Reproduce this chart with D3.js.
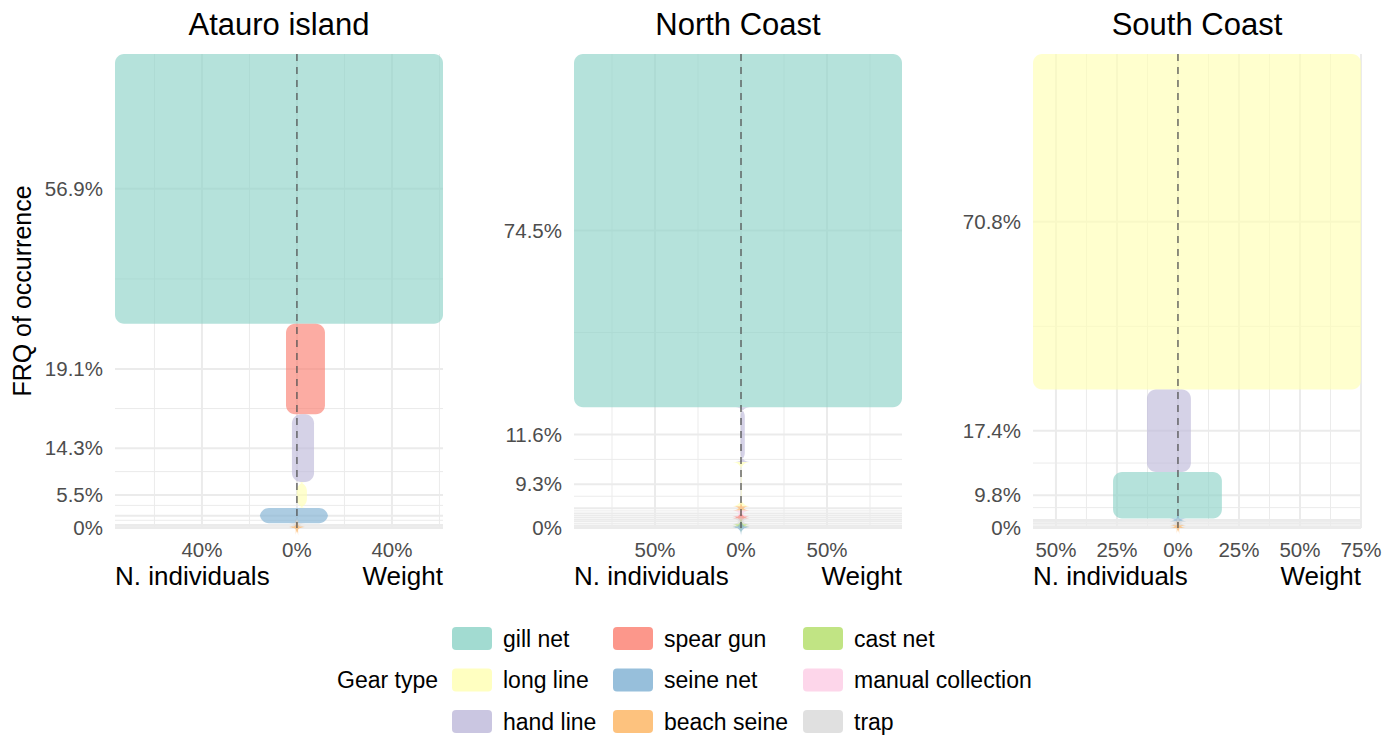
<!DOCTYPE html>
<html>
<head>
<meta charset="utf-8">
<script src="https://cdn.jsdelivr.net/npm/d3@7"></script>
<style>
  body { margin: 0; background: #fff; }
  text { font-family: "Liberation Sans", Arial, sans-serif; }
</style>
</head>
<body>
<svg id="chart" width="1397" height="740"></svg>
<script>
// gear types (legend order) and Set3 palette
const gearTypes = ["gill net", "long line", "hand line", "spear gun", "seine net",
  "beach seine", "cast net", "manual collection", "trap"];
const gearColors = ["#8DD3C7", "#FFFFB3", "#BEBADA", "#FB8072", "#80B1D3",
  "#FDB462", "#B3DE69", "#FCCDE5", "#D9D9D9"];

// Atauro island (top to bottom)
const atauroGear = ["gill net", "spear gun", "hand line", "long line", "seine net", "trap", "beach seine"];
const atauroFreq = [56.9, 19.1, 14.3, 5.5, 3.2, 0.7, 0.3];
const atauroIndiv = [76.6, 4.6, 2.1, 0.1, 15.6, 0.4, 0.5];
const atauroWeight = [61.5, 11.8, 7.2, 4.2, 13.1, 0.4, 0.5];
const atauroTicks = [-40, 0, 40];

// North Coast
const northGear = ["gill net", "hand line", "long line", "beach seine", "manual collection",
  "spear gun", "trap", "cast net", "seine net"];
const northFreq = [74.5, 11.6, 9.3, 0.9, 1.3, 0.4, 1.2, 0.5, 0.3];
const northIndiv = [97.1, 0.2, 0.1, 0.4, 0.3, 0.2, 0.2, 0.3, 0.2];
const northWeight = [93.6, 2.2, 0.3, 0.6, 0.4, 0.2, 0.2, 0.3, 0.2];
const northTicks = [-50, 0, 50];

// South Coast
const southGear = ["long line", "hand line", "gill net", "seine net", "trap", "beach seine"];
const southFreq = [70.8, 17.4, 9.8, 0.6, 0.8, 0.6];
const southIndiv = [59.4, 12.7, 26.6, 0.4, 0.2, 0.5];
const southWeight = [75.0, 5.3, 18.0, 0.4, 0.2, 0.5];
const southTicks = [-50, -25, 0, 25, 50, 75];

const panelTitles = ["Atauro island", "North Coast", "South Coast"];

const svg = d3.select("#chart");
const panelW = 328;
const panelLefts = [115, 574, 1033];
const panelTop = 54, panelBottom = 528;
const gridColor = "#EBEBEB";
const tickColor = "#4D4D4D";
const radius = 9;

const colorOf = d3.scaleOrdinal().domain(gearTypes).range(gearColors);

// rounded rect that folds into a star when smaller than the corner radius
function chicklet(x0, x1, y0, y1, r) {
  const k = 0.552 * r;
  return "M" + (x0 + r) + "," + y0 +
    "L" + (x1 - r) + "," + y0 +
    "C" + (x1 - r + k) + "," + y0 + " " + x1 + "," + (y0 + r - k) + " " + x1 + "," + (y0 + r) +
    "L" + x1 + "," + (y1 - r) +
    "C" + x1 + "," + (y1 - r + k) + " " + (x1 - r + k) + "," + y1 + " " + (x1 - r) + "," + y1 +
    "L" + (x0 + r) + "," + y1 +
    "C" + (x0 + r - k) + "," + y1 + " " + x0 + "," + (y1 - r + k) + " " + x0 + "," + (y1 - r) +
    "L" + x0 + "," + (y0 + r) +
    "C" + x0 + "," + (y0 + r - k) + " " + (x0 + r - k) + "," + y0 + " " + (x0 + r) + "," + y0 + "Z";
}

function drawPanel(i, gear, freq, indiv, weight, ticks) {
  let left = panelLefts[i];
  let g = svg.append("g");

  let x = d3.scaleLinear()
    .domain([-d3.max(indiv), d3.max(weight)])
    .range([left, left + panelW]);
  let y = d3.scaleLinear()
    .domain([0, 100])
    .range([panelBottom, panelTop]);

  // stack bands from the top down
  let rows = [];
  let top = 100;
  gear.forEach(function(d, j) {
    rows.push({gear: d, top: top, bottom: top - freq[j], freq: freq[j], indiv: indiv[j], weight: weight[j]});
    top -= freq[j];
  });

  // vertical grid
  let dom = x.domain();
  let step = ticks[1] - ticks[0];
  let xMinor = [];
  ticks.forEach(function(t) {
    [t - step / 2, t + step / 2].forEach(function(m) {
      if (m >= dom[0] && m <= dom[1] && xMinor.indexOf(m) < 0) xMinor.push(m);
    });
  });
  g.selectAll(".vminor").data(xMinor).enter().append("line")
    .attr("x1", d => x(d)).attr("x2", d => x(d))
    .attr("y1", panelTop).attr("y2", panelBottom)
    .attr("stroke", gridColor).attr("stroke-width", 1);
  g.selectAll(".vmajor").data(ticks).enter().append("line")
    .attr("x1", d => x(d)).attr("x2", d => x(d))
    .attr("y1", panelTop).attr("y2", panelBottom)
    .attr("stroke", gridColor).attr("stroke-width", 2);

  // horizontal grid: band centres plus zero
  let yBreaks = [0].concat(rows.map(d => (d.top + d.bottom) / 2).reverse());
  let yMinor = [];
  for (let j = 0; j < yBreaks.length - 1; j++) yMinor.push((yBreaks[j] + yBreaks[j + 1]) / 2);
  g.selectAll(".hminor").data(yMinor).enter().append("line")
    .attr("x1", left).attr("x2", left + panelW)
    .attr("y1", d => y(d)).attr("y2", d => y(d))
    .attr("stroke", gridColor).attr("stroke-width", 1);
  g.selectAll(".hmajor").data(yBreaks).enter().append("line")
    .attr("x1", left).attr("x2", left + panelW)
    .attr("y1", d => y(d)).attr("y2", d => y(d))
    .attr("stroke", gridColor).attr("stroke-width", 2);

  // bands
  g.selectAll(".band").data(rows).enter().append("path")
    .attr("d", d => chicklet(x(-d.indiv), x(d.weight), y(d.top), y(d.bottom), radius))
    .attr("fill", d => colorOf(d.gear))
    .attr("fill-opacity", 0.65);

  // zero line
  g.append("line")
    .attr("x1", x(0)).attr("x2", x(0))
    .attr("y1", panelTop).attr("y2", panelBottom)
    .attr("stroke", "#555").attr("stroke-width", 1.3)
    .attr("stroke-dasharray", "7,6");

  // y labels, skipping those that would overlap
  let yLabels = [{v: 0, text: "0%"}].concat(rows.slice().reverse().map(d => ({
    v: (d.top + d.bottom) / 2, text: d.freq + "%"
  })));
  let lastY = null;
  yLabels.forEach(function(d) {
    let py = y(d.v);
    if (lastY !== null && lastY - py < 24) return;
    lastY = py;
    g.append("text")
      .attr("x", left - 12).attr("y", py + 7)
      .attr("text-anchor", "end")
      .style("font-size", "20.5px").style("fill", tickColor)
      .text(d.text);
  });

  // x labels
  g.selectAll(".xlab").data(ticks).enter().append("text")
    .attr("x", d => x(d)).attr("y", 557)
    .attr("text-anchor", "middle")
    .style("font-size", "20.5px").style("fill", tickColor)
    .text(d => Math.abs(d) + "%");

  g.append("text").attr("x", left).attr("y", 585)
    .style("font-size", "26px").text("N. individuals");
  g.append("text").attr("x", left + panelW).attr("y", 585)
    .attr("text-anchor", "end")
    .style("font-size", "26px").text("Weight");

  g.append("text").attr("x", left + panelW / 2).attr("y", 35)
    .attr("text-anchor", "middle")
    .style("font-size", "31px").text(panelTitles[i]);
}

drawPanel(0, atauroGear, atauroFreq, atauroIndiv, atauroWeight, atauroTicks);
drawPanel(1, northGear, northFreq, northIndiv, northWeight, northTicks);
drawPanel(2, southGear, southFreq, southIndiv, southWeight, southTicks);

svg.append("text")
  .attr("transform", "translate(31," + ((panelTop + panelBottom) / 2) + ") rotate(-90)")
  .attr("text-anchor", "middle")
  .style("font-size", "25px")
  .text("FRQ of occurrence");

// legend, filled by column
const legendCols = [452, 613, 803];
const legendRows = [638.5, 680, 721.5];
svg.append("text")
  .attr("x", 438).attr("y", legendRows[1] + 8)
  .attr("text-anchor", "end")
  .style("font-size", "23px")
  .text("Gear type");

gearTypes.forEach(function(d, j) {
  let cx = legendCols[Math.floor(j / 3)];
  let cy = legendRows[j % 3];
  svg.append("rect")
    .attr("x", cx).attr("y", cy - 11.5)
    .attr("width", 40).attr("height", 23)
    .attr("rx", 4)
    .attr("fill", gearColors[j])
    .attr("fill-opacity", 0.82);
  svg.append("text")
    .attr("x", cx + 51).attr("y", cy + 8)
    .style("font-size", "23px")
    .text(d);
});
</script>
</body>
</html>
